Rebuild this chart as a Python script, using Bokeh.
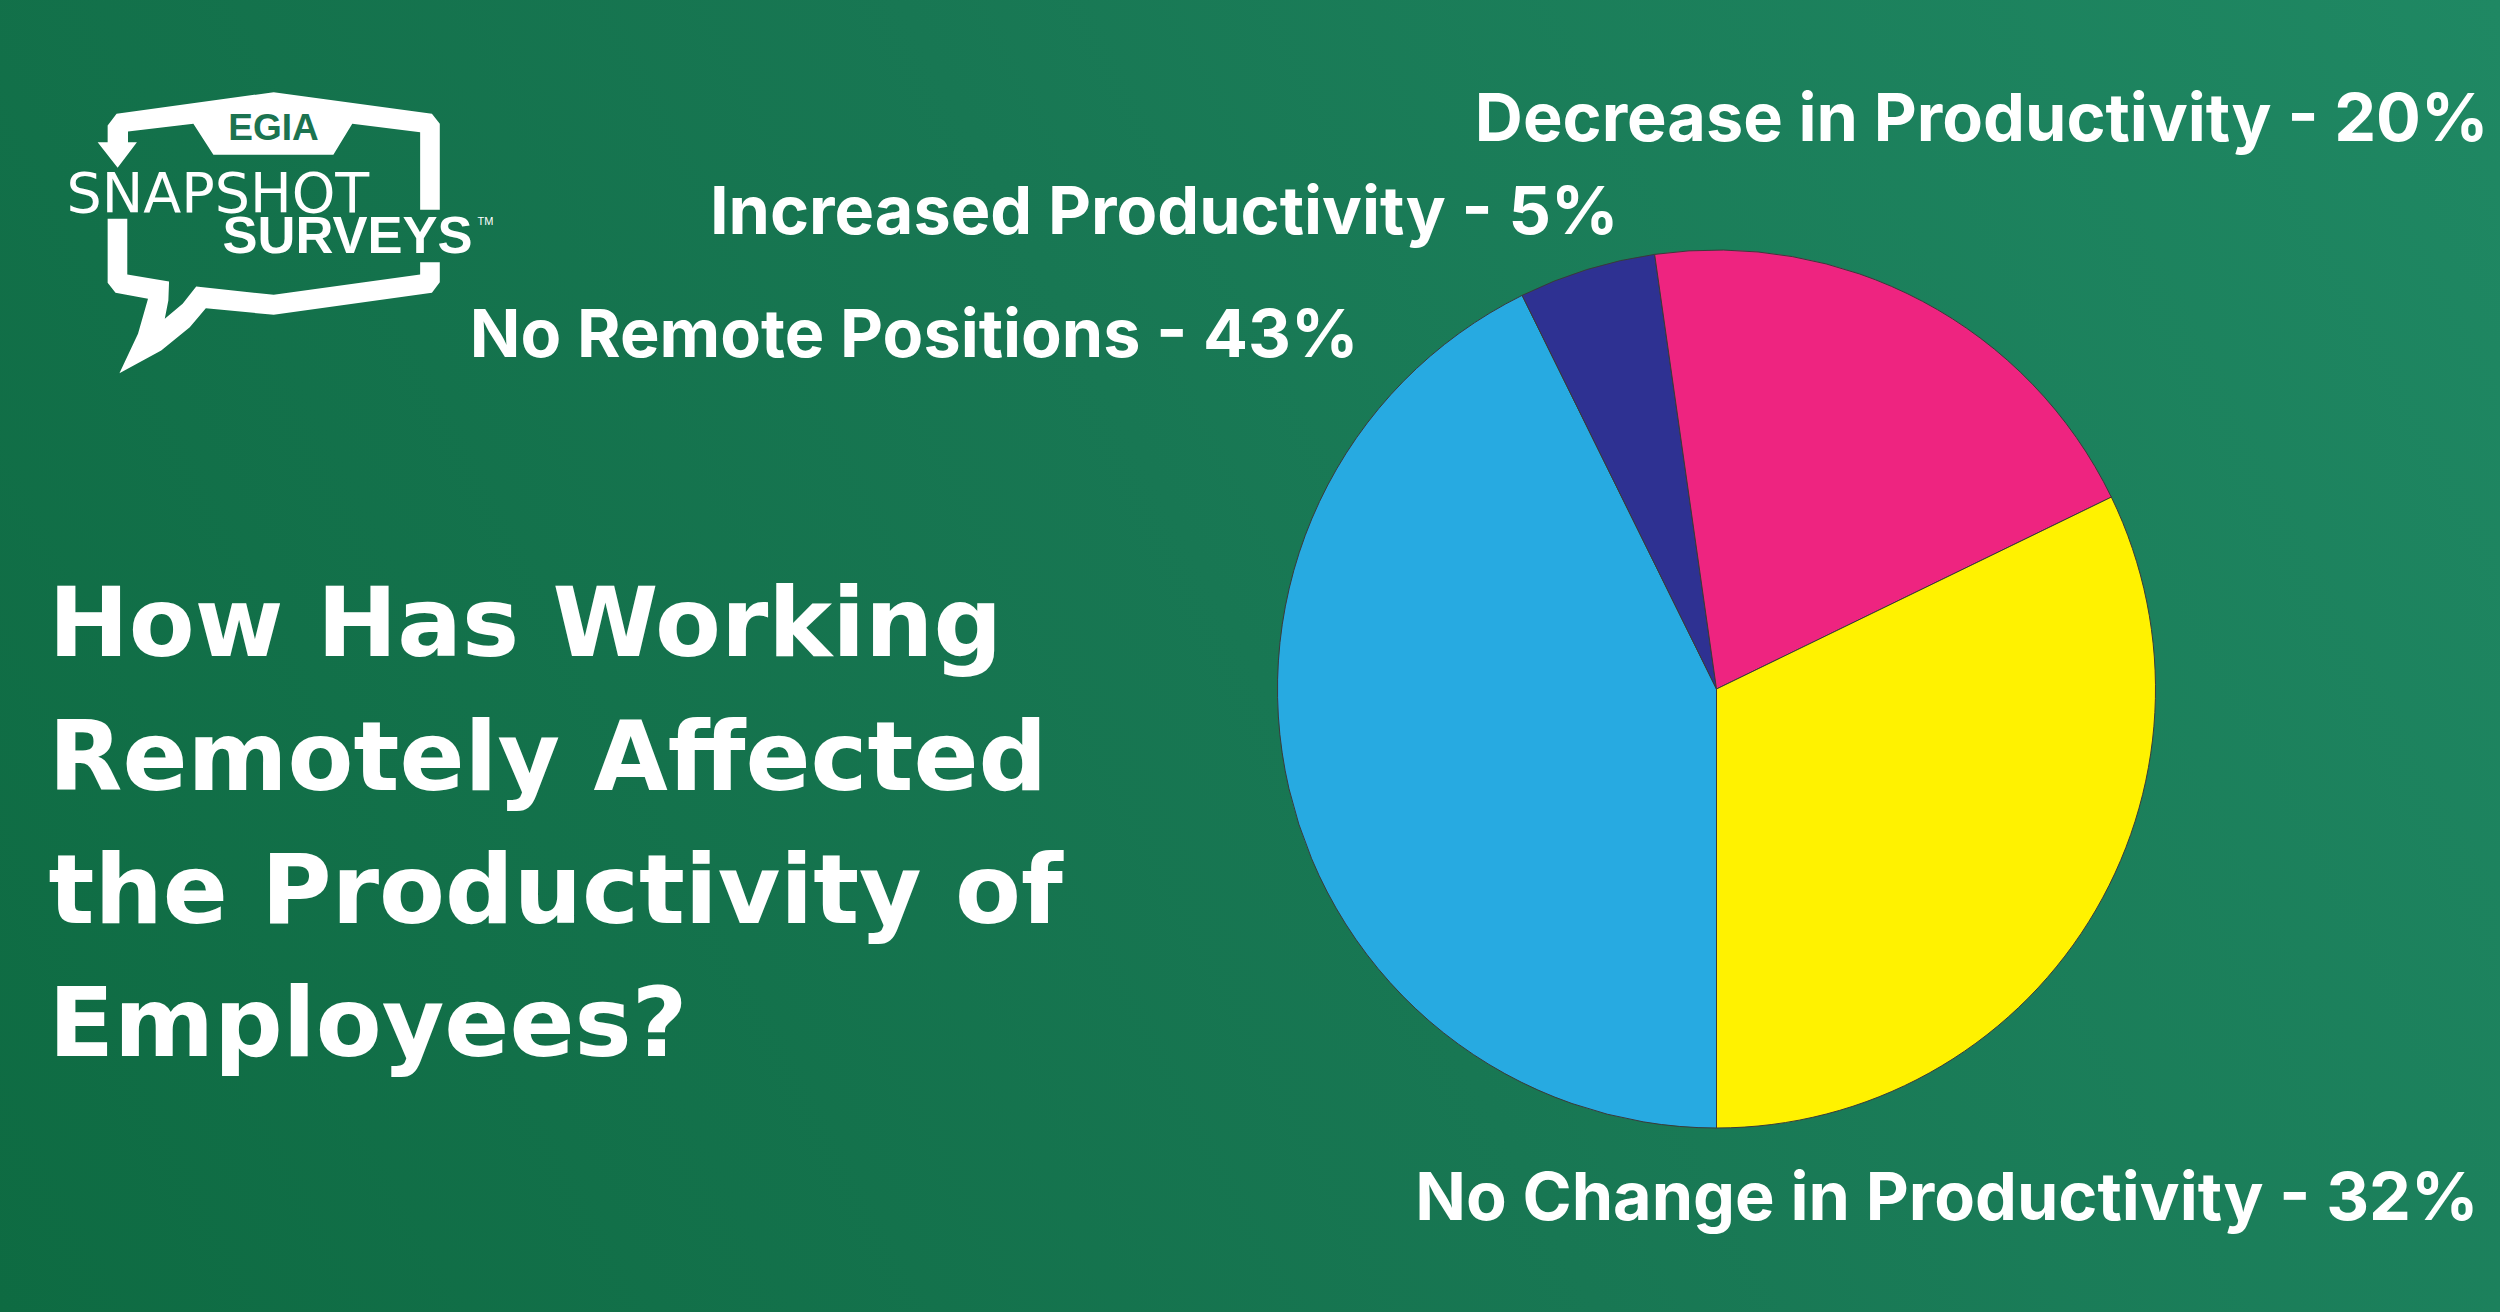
from bokeh.plotting import figure
from bokeh.embed import file_html
from bokeh.resources import INLINE
from bokeh.core.properties import value
import math

# ---- data ----
slice_names = ["No Remote Positions", "Increased Productivity", "Decrease in Productivity", "No Change in Productivity"]
slice_labels = [43, 5, 20, 32]               # the percentages printed in the labels
slice_shares = [42.7, 5.05, 20.05, 32.2]     # the slice sizes
title_lines = ["How Has Working", "Remotely Affected", "the Productivity of", "Employees?"]

# ---- styles / layout ----
slice_colors = ["#27aae1", "#2e3192", "#ee2480", "#fff200"]
label_right = [1358, 1618, 2488, 2478]
label_base = [357, 234, 141, 1220]
title_left = 48
title_base = [658, 792, 925, 1058]
GRAD = "linear-gradient(62deg,#0e6b42 0%,#187753 50%,#1f8863 100%)"
CX, CY, R = 1716, 688.5, 439
W, H = 2500, 1312
SHIFT = 0.365  # distance, per font pixel, between the requested y and the drawn baseline

def base(ys, size):
    return [y - SHIFT * size for y in ys]

p = figure(width=W, height=H, x_range=(0, W), y_range=(H, 0),
           output_backend="svg", toolbar_location=None,
           x_axis_location=None, y_axis_location=None, min_border=0,
           background_fill_alpha=0, border_fill_alpha=0, outline_line_color=None,
           styles={"background": GRAD})
p.xgrid.visible = False
p.ygrid.visible = False

# pie, clockwise from the bottom
a = -math.pi / 2
for v, c in zip(slice_shares, slice_colors):
    e = a - 2 * math.pi * v / sum(slice_shares)
    p.wedge(x=[CX], y=[CY], radius=R, start_angle=a, end_angle=e, direction="clock",
            fill_color=c, line_color="#3a3a3a", line_width=1)
    a = e

# labels
texts = [f"{n} - {v}%" for n, v in zip(slice_names, slice_labels)]
p.text(x=label_right, y=base(label_base, 66.5), text=texts, text_color="white", text_align="right",
       text_baseline="alphabetic", text_font=value("Inter"), text_font_style="bold", text_font_size="66.5px")

# title
p.text(x=[title_left] * 4, y=base(title_base, 96), text=title_lines, text_color="white", text_align="left",
       text_baseline="alphabetic", text_font=value("DejaVu Sans"), text_font_style="bold", text_font_size="96px")

def lx(pts): return [q[0] / 2.8 for q in pts]
def ly(pts): return [q[1] / 3 + 50 for q in pts]
top_piece = [(300,225),(325,190),(765,125),(1208,190),(1230,220),(1230,478),(1175,478),(1175,245),(985,220),
             (932,313),(596,313),(540,220),(357,243),(357,275),(382,275),(328,352),(272,275),(300,275)]
low_piece = [(300,505),(355,505),(355,672),(472,693),(470,750),(460,805),(510,760),(548,708),(765,733),(1175,672),
             (1175,635),(1230,635),(1230,695),(1208,727),(765,793),(575,773),(530,830),(450,900),(333,968),
             (385,850),(413,745),(322,727),(300,697)]
for piece in (top_piece, low_piece):
    p.patch(lx(piece), ly(piece), fill_color="white", line_color=None)
p.text(x=[273], y=base([141], 37), text=["EGIA"], text_color="#1b7350", text_align="center", text_baseline="alphabetic",
       text_font=value("Liberation Sans"), text_font_style="bold", text_font_size="37px")
p.text(x=[66], y=base([212], 55.5), text=["SNAPSHOT"], text_color="white", text_baseline="alphabetic",
       text_font=value("DejaVu Sans"), text_font_size="55.5px")
p.text(x=[222], y=base([253], 52.5), text=["SURVEYS"], text_color="white", text_baseline="alphabetic",
       text_font=value("Liberation Sans"), text_font_style="bold", text_font_size="52.5px")
p.text(x=[477], y=base([225], 11), text=["TM"], text_color="white", text_baseline="alphabetic",
       text_font=value("Liberation Sans"), text_font_size="11px")

open("out.html", "w").write(file_html(p, INLINE))
